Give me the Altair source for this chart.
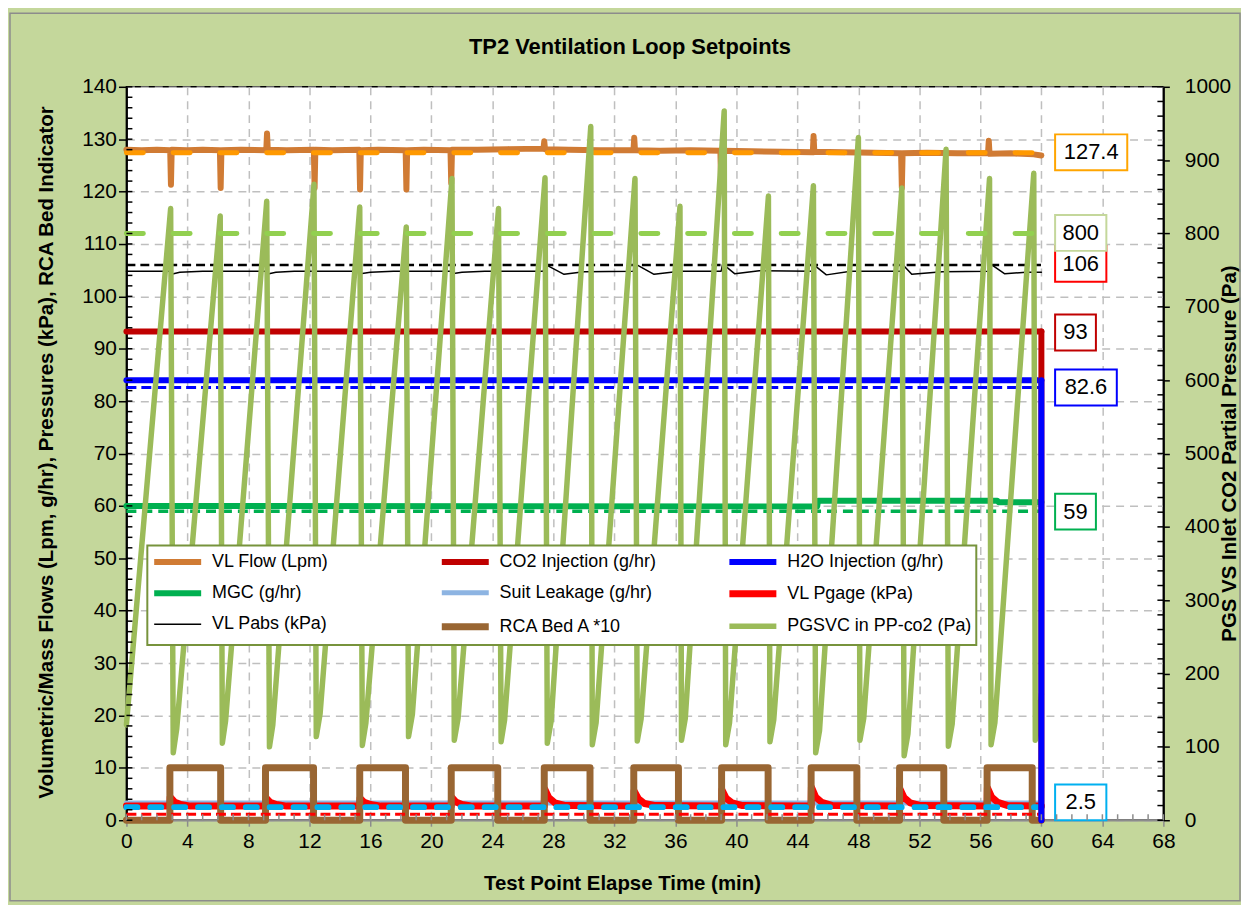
import altair as alt
import pandas as pd

FONT = "Liberation Sans"
W, H = 1042, 737

chart_title = "TP2 Ventilation Loop Setpoints"

# ---------------- series definitions ----------------
series_names = ["VL Flow (Lpm)", "CO2 Injection (g/hr)", "H2O Injection (g/hr)",
                "MGC (g/hr)", "Suit Leakage (g/hr)", "VL Pgage (kPa)",
                "VL Pabs (kPa)", "RCA Bed A *10", "PGSVC in PP-co2 (Pa)"]
series_colors = ["#D07B34", "#C00000", "#0000FF", "#00B050", "#8DB4E2",
                 "#FF0000", "#000000", "#996633", "#9BBB59"]
series_widths = [6, 6, 6, 6, 5, 7, 1.5, 7, 5.5]
# legend fills column by column: order so rows read like the reference
legend_order = [0, 3, 6, 1, 4, 7, 2, 5, 8]

# VL Flow (Lpm)
flow_t = [0, 1.0, 2.0, 2.87, 2.92, 2.97, 4.0, 5.0, 6.13, 6.18, 6.23, 7.5, 9.17, 9.22, 9.27,
          10.5, 12.29, 12.34, 12.39, 13.5, 15.27, 15.32, 15.37, 16.5, 18.31, 18.36, 18.41,
          19.5, 21.25, 21.3, 21.35, 23.0, 25.0, 27.35, 27.4, 27.45, 29.0, 31.0, 33.25, 33.3,
          33.35, 35.0, 37.0, 38.95, 39.0, 39.05, 41.0, 43.0, 45.01, 45.06, 45.11, 47.0, 49.0,
          50.8, 50.85, 50.9, 52.5, 54.5, 56.5, 56.55, 56.6, 58.0, 59.5, 60.0]
flow_v = [128.0, 127.9, 128.0, 127.9, 121.3, 128.0, 127.9, 128.0, 127.9, 120.7, 127.9, 128.0,
          127.9, 131.1, 128.0, 127.9, 128.0, 120.7, 128.0, 127.9, 128.0, 120.4, 127.9, 128.0,
          127.9, 120.4, 127.9, 128.0, 127.9, 121.6, 128.0, 128.0, 128.1, 128.2, 129.6, 128.1,
          128.0, 127.9, 127.9, 130.3, 127.9, 127.8, 127.9, 127.8, 120.7, 127.8, 127.7, 127.6,
          127.5, 130.6, 127.6, 127.5, 127.4, 127.3, 120.7, 127.3, 127.4, 127.3, 127.3, 129.7,
          127.2, 127.3, 127.1, 126.9]

# CO2 Injection (g/hr)
co2_t = [0, 60, 60]
co2_v = [93.3, 93.3, 0]

# H2O Injection (g/hr)
h2o_t = [0, 60, 60]
h2o_v = [84.0, 84.0, 0]

# MGC (g/hr)
mgc_t = [0, 45.3, 45.35, 57.1, 57.2, 60]
mgc_v = [60.0, 59.9, 61.0, 61.0, 60.7, 60.7]

# Suit Leakage (g/hr)
suit_t = [0, 60]
suit_v = [3.3, 3.3]

# VL Pgage (kPa)
pgage_t = [0, 2.85, 2.87, 3.15, 3.55, 4.2, 9.12, 9.14, 9.42, 9.82, 10.5, 15.3, 15.32, 15.6,
           16.0, 16.7, 21.3, 21.32, 21.6, 22.0, 22.7, 27.4, 27.42, 27.7, 28.1, 28.8, 33.27,
           33.29, 33.57, 33.97, 34.7, 39.03, 39.05, 39.33, 39.73, 40.4, 44.9, 44.92, 45.2,
           45.6, 46.3, 50.7, 50.72, 51.0, 51.4, 52.1, 56.44, 56.46, 56.74, 57.14, 57.8, 60.0]
pgage_v = [2.7, 2.7, 4.4, 3.5, 3.0, 2.7, 2.7, 4.3, 3.45, 3.0, 2.7, 2.7, 4.2, 3.4, 3.0, 2.7,
           2.7, 4.4, 3.5, 3.0, 2.7, 2.7, 6.0, 4.3, 3.3, 2.8, 2.7, 5.6, 4.1, 3.2, 2.8, 2.7, 5.8,
           4.2, 3.3, 2.8, 2.7, 6.3, 4.4, 3.4, 2.8, 2.7, 6.0, 4.3, 3.3, 2.8, 2.7, 6.2, 4.4, 3.4,
           2.8, 2.7]

# VL Pabs (kPa)
pabs_t = [0, 2.85, 2.95, 3.5, 5, 9.1, 9.2, 9.8, 11, 15.25, 15.35, 16.0, 17.5, 21.25, 21.35,
          22.0, 23.5, 27.35, 27.4, 28.7, 30.0, 33.25, 33.3, 34.6, 36.3, 39.0, 39.1, 39.9, 41.5,
          44.95, 45.0, 45.9, 47.5, 50.85, 50.9, 51.5, 53.5, 56.6, 56.7, 57.6, 59.0, 60.0]
pabs_v = [104.8, 104.8, 104.2, 104.6, 104.8, 104.8, 104.2, 104.6, 104.8, 104.8, 104.3, 104.6,
          104.8, 104.8, 104.3, 104.6, 104.8, 104.8, 106.2, 104.2, 104.7, 104.8, 106.3, 104.2,
          104.8, 104.8, 106.2, 104.3, 104.9, 104.8, 106.2, 104.1, 104.8, 104.8, 106.1, 104.2,
          104.7, 104.8, 106.1, 104.3, 104.6, 104.6]

# RCA Bed A *10
rca_t = [0, 2.85, 2.85, 6.18, 6.18, 9.12, 9.12, 12.27, 12.27, 15.3, 15.3, 18.3, 18.3, 21.3,
         21.3, 24.35, 24.35, 27.4, 27.4, 30.4, 30.4, 33.27, 33.27, 36.2, 36.2, 39.03, 39.03,
         42.08, 42.08, 44.9, 44.9, 47.9, 47.9, 50.7, 50.7, 53.6, 53.6, 56.44, 56.44, 59.4,
         59.4, 60.0]
rca_v = [0, 0, 10, 10, 0, 0, 10, 10, 0, 0, 10, 10, 0, 0, 10, 10, 0, 0, 10, 10, 0,
         0, 10, 10, 0, 0, 10, 10, 0, 0, 10, 10, 0, 0, 10, 10, 0, 0, 10, 10, 0, 0]

# PGSVC in PP-co2 (Pa) -- secondary axis
pgs_t = [0, 2.9, 3.07, 3.3, 6.15, 6.29, 6.5, 9.2, 9.38, 9.6, 12.3, 12.45, 12.7, 15.3, 15.47,
         15.7, 18.35, 18.5, 18.75, 21.35, 21.5, 21.75, 24.4, 24.57, 24.8, 27.45, 27.6, 27.85,
         30.45, 30.55, 30.8, 33.35, 33.5, 33.75, 36.3, 36.4, 36.65, 39.2, 39.3, 39.55, 42.1,
         42.2, 42.45, 45.05, 45.2, 45.45, 48.0, 48.1, 48.35, 50.85, 51.0, 51.25, 53.75, 53.9,
         54.15, 56.6, 56.7, 56.95, 59.5, 59.6, 59.75, 60.0]
pgs_v = [130, 834, 92, 125, 824, 105, 135, 844, 100, 130, 867, 114, 145, 836, 102, 132, 809,
         114, 144, 875, 109, 139, 834, 107, 137, 876, 105, 135, 946, 103, 133, 875, 108, 138,
         837, 109, 139, 967, 103, 133, 851, 107, 137, 865, 92, 122, 931, 109, 139, 862, 88,
         118, 915, 101, 131, 875, 103, 133, 882, 109, 125, 172]

# setpoints (dashed)
sp_left_vals = [127.4, 106.0, 82.6, 59.0, 2.5, 1.15]
sp_left_colors = ["#FF9900", "#000000", "#0000FF", "#00B050", "#00B0F0", "#FF0000"]
sp_right_val = 800
sp_right_color = "#92D050"

# data labels at right
lab_text = ["127.4", "106", "800", "93", "82.6", "59", "2.5"]
lab_pos = [127.5, 106.2, 112.1, 93.1, 82.6, 58.9, 3.4]
lab_colors = ["#FFA500", "#FF0000", "#C4D79B", "#C00000", "#0000FF", "#00B050", "#00B0F0"]

# axis ticks
x_major = list(range(0, 69, 4))
x_minor = list(range(0, 69, 1))
yl_major = list(range(0, 141, 10))
yl_minor = list(range(0, 141, 2))
yr_major = list(range(0, 1001, 100))
yr_minor = list(range(0, 1001, 20))

# ---------------- scales / axes ----------------
XS = alt.Scale(domain=[0, 68], nice=False, zero=False)
YL = alt.Scale(domain=[0, 140], nice=False, zero=False)
YR = alt.Scale(domain=[0, 1000], nice=False, zero=False)
GRID = dict(grid=True, gridColor="#BFBFBF", gridDash=[8, 6], gridWidth=1.5)
TFS = 20.5
LFS = 21

X_AXIS = alt.Axis(values=x_major, title="Test Point Elapse Time (min)", titleFont=FONT,
                  titleFontSize=TFS, titleFontWeight="bold", titleColor="black",
                  titleX=498, titleY=64, titleAlign="center", titleBaseline="middle",
                  labelFont=FONT, labelFontSize=LFS, labelColor="black", labelPadding=4,
                  labelFlush=False, labelOverlap=False, tickSize=6, tickColor="#8C8C8C",
                  tickWidth=1.5, domainColor="#8C8C8C", domainWidth=1.5, **GRID)
YL_AXIS = alt.Axis(orient="left", values=yl_major,
                   title="Volumetric/Mass Flows (Lpm, g/hr), Pressures (kPa), RCA Bed Indicator",
                   titleFont=FONT, titleFontSize=TFS, titleFontWeight="bold", titleColor="black",
                   titleX=-80, titleY=367, titleAngle=270, titleAlign="center",
                   titleBaseline="middle", labelFont=FONT, labelFontSize=LFS, labelColor="black",
                   labelPadding=2, labelFlush=False, labelOverlap=False, tickSize=8,
                   tickColor="black", tickWidth=1.5, domainColor="black", domainWidth=2, **GRID)
YR_AXIS = alt.Axis(orient="right", values=yr_major, format="d",
                   title="PGS VS Inlet CO2 Partial Pressure (Pa)", titleFont=FONT,
                   titleFontSize=TFS, titleFontWeight="bold", titleColor="black",
                   titleX=66, titleY=368, titleAngle=270, titleAlign="center",
                   titleBaseline="middle", labelFont=FONT, labelFontSize=LFS, labelColor="black",
                   labelPadding=15, labelFlush=False, labelOverlap=False, tickSize=6,
                   tickColor="black", tickWidth=1.5, domainColor="black", domainWidth=2,
                   grid=False)

leg_domain = [series_names[i] for i in legend_order]
leg_colors = [series_colors[i] for i in legend_order]
leg_widths = [series_widths[i] for i in legend_order]

LEG = alt.Legend(orient="none", legendX=21, legendY=461, columns=3, title=None,
                 symbolType="M-2.95,0L2.95,0", symbolSize=256, symbolStrokeWidth=5,
                 symbolOffset=15, labelFont=FONT, labelFontSize=18, labelColor="black",
                 labelLimit=400, labelOffset=23, fillColor="white", strokeColor="#77933C",
                 padding=4, rowPadding=4, columnPadding=30, gridAlign="all")
COLOR = alt.Color("series:N", scale=alt.Scale(domain=leg_domain, range=leg_colors),
                  legend=LEG)
SW = alt.StrokeWidth("series:N", scale=alt.Scale(type="ordinal", domain=leg_domain,
                                                   range=leg_widths), legend=LEG)


def line_layer(name, t, v, yscale, yaxis):
    df = pd.DataFrame({"t": t, "v": v})
    df["series"] = name
    df["i"] = range(len(df))
    return alt.Chart(df).mark_line(strokeCap="round", strokeJoin="round").encode(
        x=alt.X("t:Q", scale=XS, axis=X_AXIS),
        y=alt.Y("v:Q", scale=yscale, axis=yaxis),
        order=alt.Order("i:Q"),
        color=COLOR, strokeWidth=SW)


def setpoint_layer(val, color, width, dash, cap, yscale, yaxis):
    df = pd.DataFrame({"x0": [0.0], "x1": [60.0], "v": [val]})
    return alt.Chart(df).mark_rule(color=color, strokeWidth=width, strokeDash=dash,
                                   strokeCap=cap).encode(
        x=alt.X("x0:Q", scale=XS, axis=X_AXIS), x2="x1:Q",
        y=alt.Y("v:Q", scale=yscale, axis=yaxis))


sp_styles = [(5, [17, 30], "round"), (2.5, [9, 5], "butt"), (3, [10, 5], "butt"),
             (3.5, [10, 6], "butt"), (6, [11, 13], "round"), (3, [10, 5], "butt")]

# ---------------- left (primary) group ----------------
left_layers = [
    line_layer(series_names[3], mgc_t, mgc_v, YL, YL_AXIS),
    line_layer(series_names[2], h2o_t[:2], h2o_v[:2], YL, YL_AXIS),
    line_layer(series_names[1], co2_t[:2], co2_v[:2], YL, YL_AXIS),
    line_layer(series_names[4], suit_t, suit_v, YL, YL_AXIS),
    line_layer(series_names[5], pgage_t, pgage_v, YL, YL_AXIS),
    line_layer(series_names[6], pabs_t, pabs_v, YL, YL_AXIS),
    line_layer(series_names[0], flow_t, flow_v, YL, YL_AXIS),
    line_layer(series_names[7], rca_t, rca_v, YL, YL_AXIS),
]
for val, col, (w, d, c) in zip(sp_left_vals, sp_left_colors, sp_styles):
    left_layers.append(setpoint_layer(val, col, w, d, c, YL, YL_AXIS))
left_group = alt.layer(*left_layers)

# ---------------- right (secondary) group ----------------
right_ticks = alt.Chart(pd.DataFrame({"v": yr_minor})).mark_rule(
    color="black", strokeWidth=1.5).encode(
    y=alt.Y("v:Q", scale=YR, axis=YR_AXIS), x=alt.value(W - 6), x2=alt.value(W))
right_group = alt.layer(
    line_layer(series_names[8], pgs_t, pgs_v, YR, YR_AXIS),
    setpoint_layer(sp_right_val, sp_right_color, 5, [17, 30], "round", YR, YR_AXIS),
    right_ticks,
)

# ---------------- top group (drops, labels, inner ticks, frame, title) ----------------
px_per_min = W / 68.0
px_per_unit = H / 140.0
lab_df = pd.DataFrame({"text": lab_text, "pos": lab_pos, "bc": lab_colors})
lab_df["x0"] = 60.9
lab_df["x1"] = lab_df["x0"] + (20 + 10.5 * lab_df["text"].str.len()) / px_per_min
lab_df["xc"] = (lab_df["x0"] + lab_df["x1"]) / 2
lab_df["y0"] = lab_df["pos"] - 18 / px_per_unit
lab_df["y1"] = lab_df["pos"] + 18 / px_per_unit

YT = alt.Scale(domain=[0, 140], nice=False, zero=False)
boxes = alt.Chart(lab_df).mark_rect(fill="white", strokeWidth=2).encode(
    x=alt.X("x0:Q", scale=XS, axis=X_AXIS), x2="x1:Q",
    y=alt.Y("y0:Q", scale=YT, axis=None), y2="y1:Q",
    stroke=alt.Stroke("bc:N", scale=None, legend=None))
texts = alt.Chart(lab_df).mark_text(font=FONT, fontSize=22, color="black", align="center",
                                    baseline="middle").encode(
    x=alt.X("xc:Q", scale=XS, axis=X_AXIS), y=alt.Y("pos:Q", scale=YT, axis=None),
    text="text:N")
left_ticks = alt.Chart(pd.DataFrame({"v": yl_minor})).mark_rule(
    color="black", strokeWidth=1.5).encode(
    y=alt.Y("v:Q", scale=YT, axis=None), x=alt.value(0), x2=alt.value(6))
x_ticks = alt.Chart(pd.DataFrame({"t": x_minor})).mark_rule(
    color="#8C8C8C", strokeWidth=1.5).encode(
    x=alt.X("t:Q", scale=XS, axis=X_AXIS), y=alt.value(H - 6), y2=alt.value(H))
frame = alt.Chart(pd.DataFrame({"a": [0]})).mark_rect(
    fillOpacity=0, stroke="#8C8C8C", strokeWidth=1.5).encode(
    x=alt.value(-117), x2=alt.value(W + 77), y=alt.value(-74), y2=alt.value(H + 81))
title_mark = alt.Chart(pd.DataFrame({"title": [chart_title]})).mark_text(
    font=FONT, fontSize=22, fontWeight="bold", color="black", align="center",
    baseline="middle").encode(text="title:N", x=alt.value(506), y=alt.value(-40))

top_group = alt.layer(
    line_layer(series_names[1], co2_t[1:], co2_v[1:], YT, None),
    line_layer(series_names[2], h2o_t[1:], h2o_v[1:], YT, None),
    boxes, texts, left_ticks, x_ticks, frame, title_mark,
)

chart = alt.layer(left_group, right_group, top_group).resolve_scale(
    y="independent"
).properties(
    width=W, height=H,
    padding={"left": 119, "top": 77, "right": 78, "bottom": 83},
    autosize=alt.AutoSizeParams(type="none"),
    background="#C4D79B",
).configure_view(
    fill="white", stroke="black", strokeWidth=1.5
).configure_legend(strokeWidth=2)

chart.save("out.html", embed_options={"renderer": "svg", "actions": False})
